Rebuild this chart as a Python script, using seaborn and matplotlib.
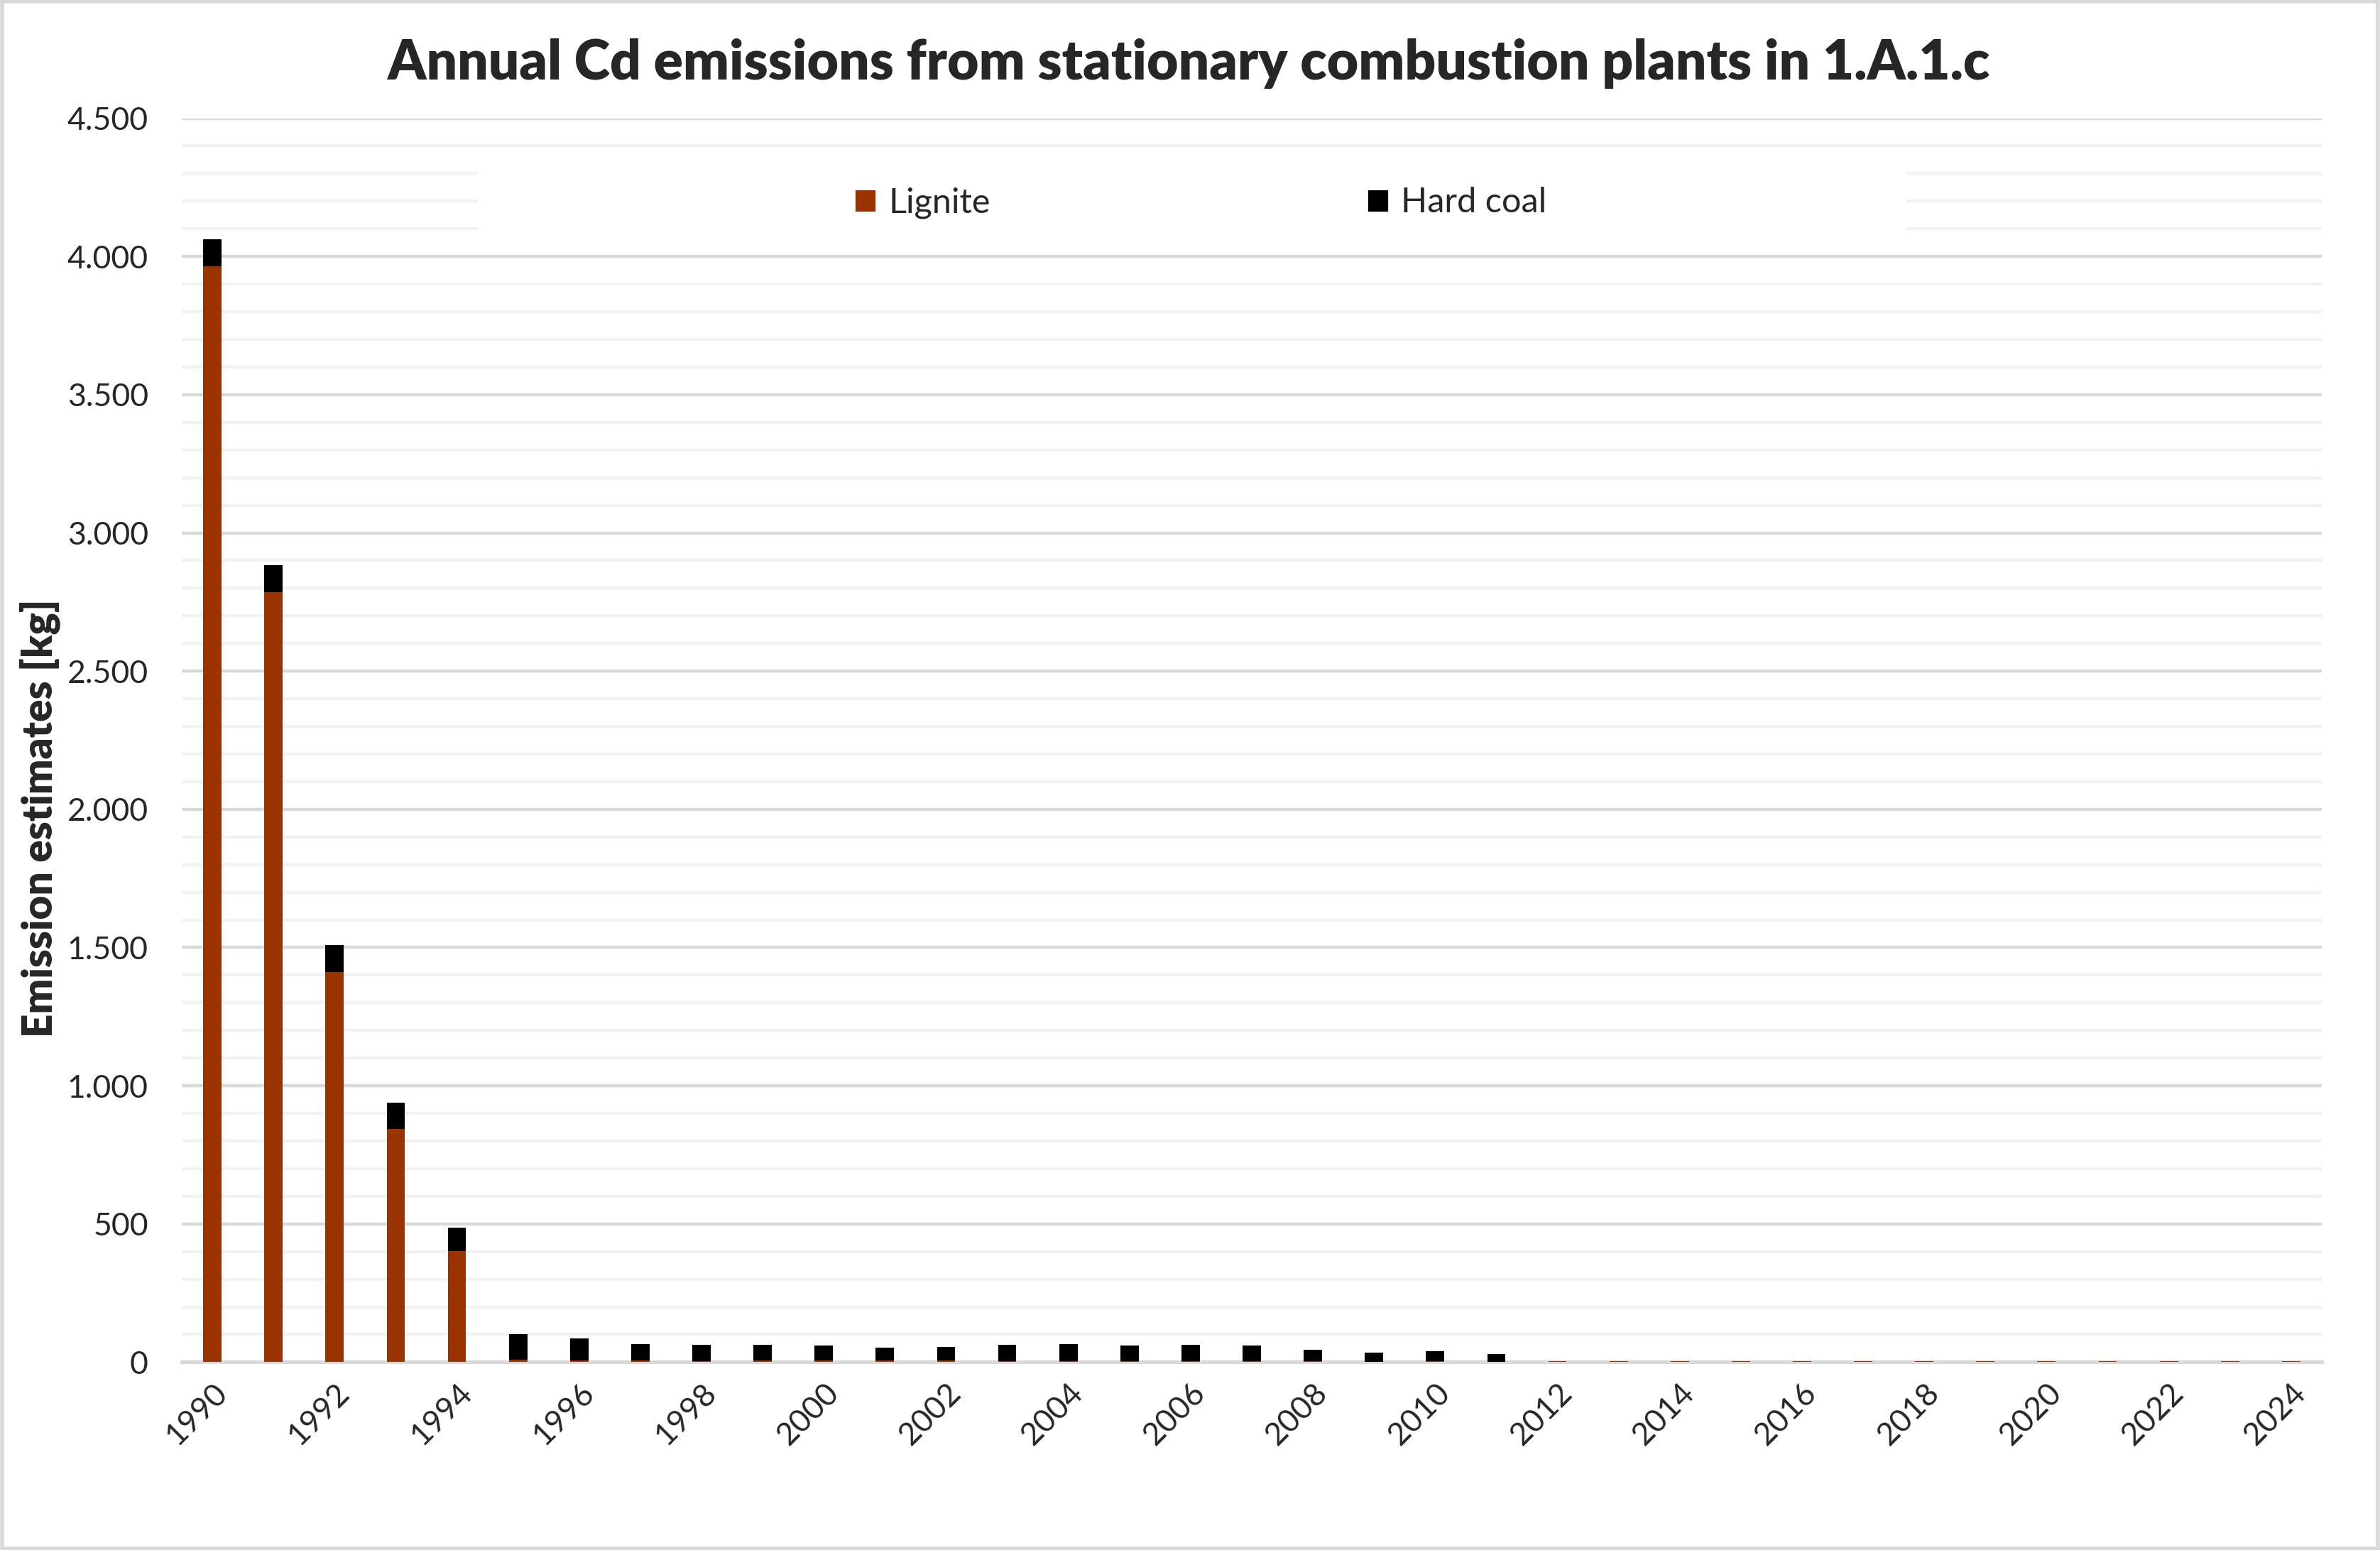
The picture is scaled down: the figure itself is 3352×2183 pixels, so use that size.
import numpy as np
import pandas as pd
import seaborn as sns
import matplotlib.pyplot as plt
from matplotlib.patches import Patch, Rectangle
from matplotlib.ticker import FuncFormatter, MultipleLocator

years = list(range(1990, 2025))
lignite = [3964, 2786, 1411, 843, 402, 10, 6, 6, 3, 6, 6, 6, 6, 3, 3, 3, 3, 3, 3, 1, 3, 2,
           3, 3, 3, 3, 3, 3, 3, 3, 3, 3, 3, 3, 3]
hard_coal = [98, 97, 97, 96, 85, 91, 80, 59, 59, 56, 54, 46, 49, 59, 62, 57, 59, 57, 42, 33, 37, 27,
             0, 0, 0, 0, 0, 0, 0, 0, 0, 0, 0, 0, 0]

df = pd.DataFrame({'year': [str(y) for y in years], 'Lignite': lignite, 'Hard coal': hard_coal})
df['total'] = df['Lignite'] + df['Hard coal']

sns.set_style('white')
plt.rcParams['font.family'] = ['Lato', 'DejaVu Sans']

fig = plt.figure(figsize=(16.76, 10.915), dpi=200)
ax = fig.add_axes([0.0764, 0.1212, 0.8991, 0.8025])

lignite_col = '#993300'
# stacked bars: total in black, lignite drawn over it
sns.barplot(data=df, x='year', y='total', color='black', width=0.3, saturation=1, ax=ax,
            linewidth=0, edgecolor='none', zorder=3)
sns.barplot(data=df, x='year', y='Lignite', color=lignite_col, width=0.3, saturation=1, ax=ax,
            linewidth=0, edgecolor='none', zorder=4)

ax.set_ylim(0, 4500)
ax.set_xlim(-0.5, len(years) - 0.5)
ax.yaxis.set_major_locator(MultipleLocator(500))
ax.yaxis.set_minor_locator(MultipleLocator(100))
ax.yaxis.set_major_formatter(FuncFormatter(lambda v, p: f'{int(v):,}'.replace(',', '.')))
ax.grid(axis='y', which='major', color='#d9d9d9', linewidth=1.6, zorder=0)
ax.grid(axis='y', which='minor', color='#f2f2f2', linewidth=1.6, zorder=0)
ax.set_axisbelow(True)
for s in ['left', 'right', 'top']:
    ax.spines[s].set_visible(False)
ax.spines['bottom'].set_color('#d9d9d9')
ax.spines['bottom'].set_linewidth(1.8)

ax.set_xticks(range(0, len(years), 2))
ax.set_xticklabels([str(y) for y in years[::2]], rotation=45, ha='right', rotation_mode='anchor')
ax.tick_params(axis='x', length=0, pad=8, labelsize=16)
ax.tick_params(axis='y', length=0, pad=17, labelsize=16, which='both')
ax.set_xlabel('')
ax.set_ylabel('')

fig.text(0.0167, 0.472, 'Emission estimates [kg]', rotation=90, ha='center', va='center',
         fontsize=21, fontweight='heavy')
fig.text(0.4995, 0.959, 'Annual Cd emissions from stationary combustion plants in 1.A.1.c',
         ha='center', va='center', fontsize=27.6, fontweight='heavy')

# white area behind legend, covering the grid lines
ax.add_patch(Rectangle((0.1384, 0.892), 0.6676, 0.08, transform=ax.transAxes,
                       facecolor='white', edgecolor='none', zorder=2))
handles = [Patch(facecolor=lignite_col, label='Lignite'), Patch(facecolor='black', label='Hard coal')]
ax.legend(handles=handles, loc='center', bbox_to_anchor=(0.476, 0.932), ncol=2, frameon=False,
          fontsize=17.5, columnspacing=10.9, handlelength=0.65, handleheight=0.65, handletextpad=0.35)

fig.patches.append(Rectangle((0.001, 0.001), 0.998, 0.998, transform=fig.transFigure,
                             facecolor='none', edgecolor='#d9d9d9', linewidth=2))

fig.savefig('out.png', dpi=200, facecolor='white')
